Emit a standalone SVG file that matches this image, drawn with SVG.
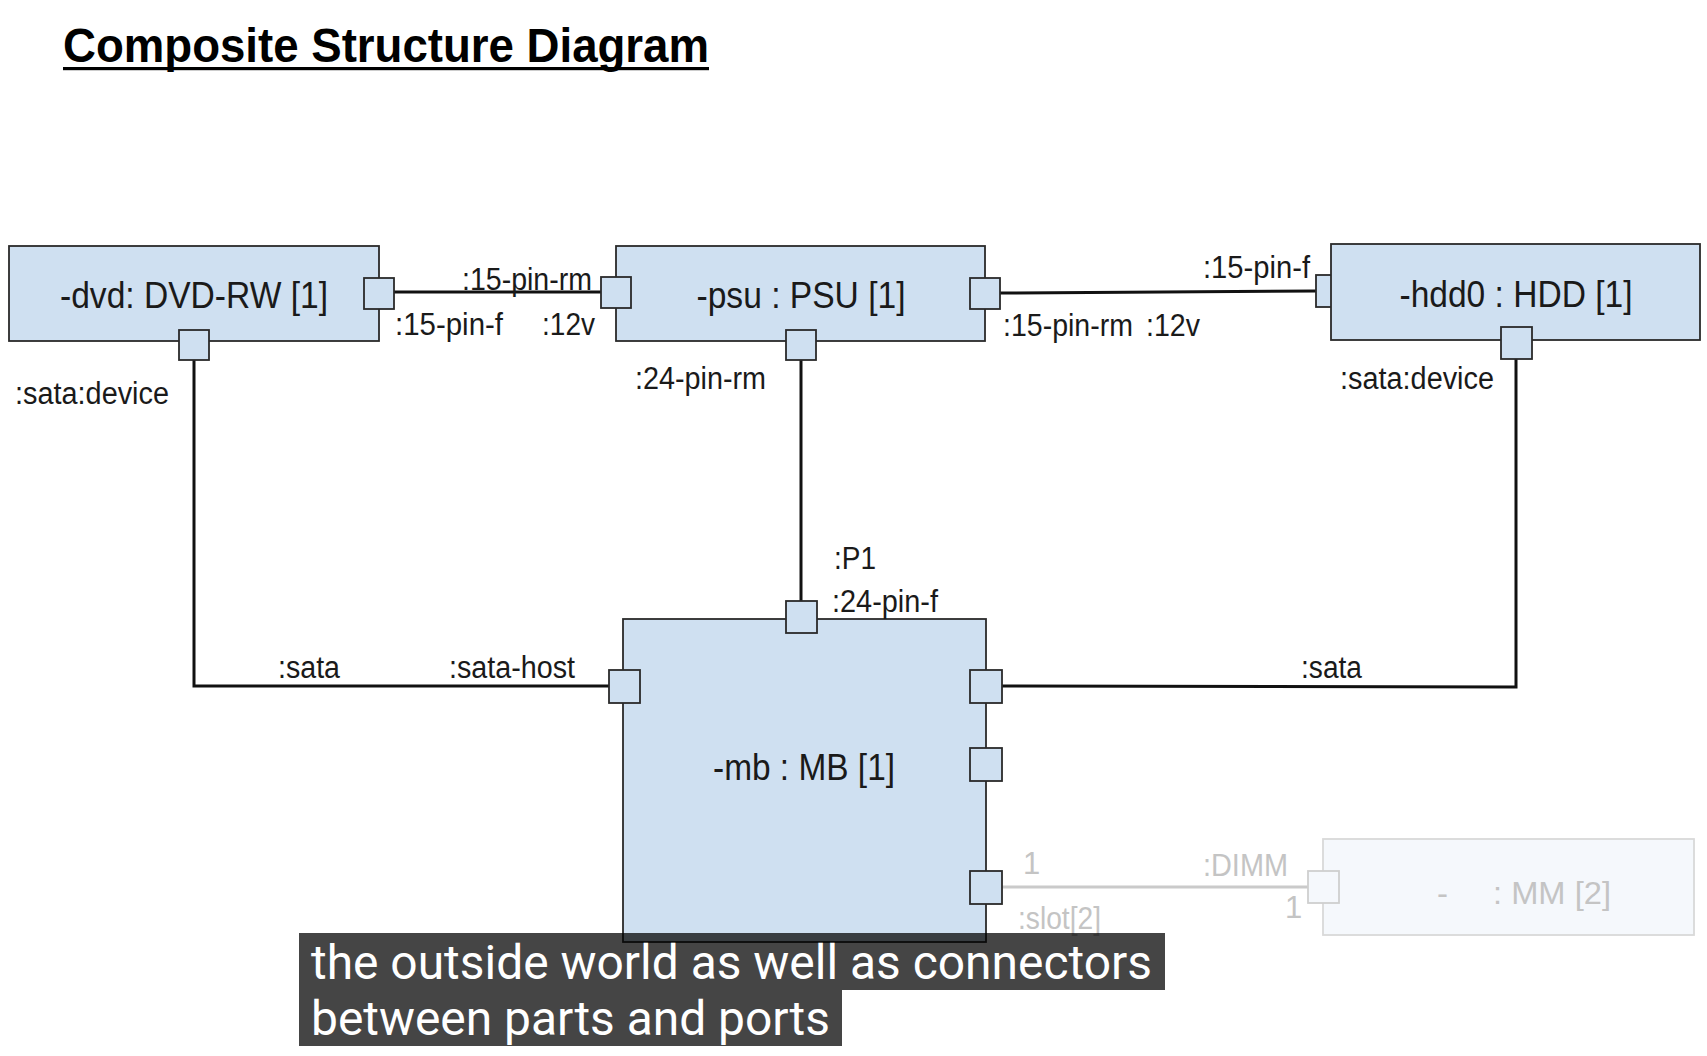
<svg xmlns="http://www.w3.org/2000/svg" width="1707" height="1056" viewBox="0 0 1707 1056">
<style>
.part{fill:#cfe0f1;stroke:#2a2a2a;stroke-width:1.8}
.port{fill:#cfe0f1;stroke:#2a2a2a;stroke-width:1.8}
.faded{fill:#f5f8fc;stroke:#d9d9d9;stroke-width:1.8}
.fport{fill:#f5f8fc;stroke:#cfcfcf;stroke-width:1.8}
.name{font-family:"Liberation Sans",Arial,sans-serif;font-size:36px;fill:#1a1a1a}
.lbl{font-family:"Liberation Sans",Arial,sans-serif;font-size:31px;fill:#1a1a1a}
.glbl{font-family:"Liberation Sans",Arial,sans-serif;font-size:31px;fill:#c4c4c4}
.wire{stroke:#111;stroke-width:3;fill:none}
.gwire{stroke:#cacaca;stroke-width:3;fill:none}
.cap{font-family:Roboto,"Noto Sans",sans-serif;font-size:48px;fill:#ffffff}
</style>
<rect x="0" y="0" width="1707" height="1056" fill="#ffffff"/>
<g id="title">
<text x="63" y="62" font-family="'Liberation Sans',Arial,sans-serif" font-size="48" font-weight="bold" fill="#000" textLength="646" lengthAdjust="spacingAndGlyphs">Composite Structure Diagram</text>
<rect x="63" y="67" width="646" height="3.2" fill="#000"/>
</g>
<g id="connectors">
<line class="wire" x1="394" y1="292" x2="601" y2="292"/>
<line class="wire" x1="1000" y1="293" x2="1316" y2="291"/>
<polyline class="wire" points="194,360 194,686 609,686"/>
<line class="wire" x1="801" y1="360" x2="801" y2="601"/>
<polyline class="wire" points="1002,686 1516,687 1516,359"/>
<line class="gwire" x1="1002" y1="887" x2="1309" y2="887"/>
</g>
<g id="node-dvd">
<rect class="part" x="9" y="246" width="370" height="95"/>
<rect class="port" x="364" y="278" width="30" height="31"/>
<rect class="port" x="179" y="330" width="30" height="30"/>
<text class="name" x="194" y="308" text-anchor="middle" textLength="268" lengthAdjust="spacingAndGlyphs">-dvd: DVD-RW [1]</text>
</g>
<g id="node-psu">
<rect class="part" x="616" y="246" width="369" height="95"/>
<rect class="port" x="601" y="277" width="30" height="31"/>
<rect class="port" x="970" y="278" width="30" height="31"/>
<rect class="port" x="786" y="330" width="30" height="30"/>
<text class="name" x="801" y="308" text-anchor="middle" textLength="209" lengthAdjust="spacingAndGlyphs">-psu : PSU [1]</text>
</g>
<g id="node-hdd0">
<rect class="port" x="1316" y="275" width="30" height="32"/>
<rect class="part" x="1331" y="244" width="369" height="96"/>
<rect class="port" x="1501" y="327" width="31" height="32"/>
<text class="name" x="1516" y="307" text-anchor="middle" textLength="233" lengthAdjust="spacingAndGlyphs">-hdd0 : HDD [1]</text>
</g>
<g id="node-mb">
<rect class="part" x="623" y="619" width="363" height="323"/>
<rect class="port" x="786" y="601" width="31" height="32"/>
<rect class="port" x="609" y="670" width="31" height="33"/>
<rect class="port" x="970" y="670" width="32" height="33"/>
<rect class="port" x="970" y="748" width="32" height="33"/>
<rect class="port" x="970" y="871" width="32" height="33"/>
<text class="name" x="804" y="780" text-anchor="middle" textLength="182" lengthAdjust="spacingAndGlyphs">-mb : MB [1]</text>
</g>
<g id="node-mm">
<rect class="faded" x="1323" y="839" width="371" height="96"/>
<rect class="fport" x="1308" y="871" width="31" height="32"/>
<text class="glbl" x="1437" y="904" font-size="35" textLength="11" lengthAdjust="spacingAndGlyphs">-</text>
<text class="glbl" x="1493" y="904" font-size="35" textLength="118" lengthAdjust="spacingAndGlyphs">: MM [2]</text>
</g>
<g id="labels">
<text class="lbl" x="462" y="290" textLength="130" lengthAdjust="spacingAndGlyphs">:15-pin-rm</text>
<text class="lbl" x="395" y="335" textLength="108" lengthAdjust="spacingAndGlyphs">:15-pin-f</text>
<text class="lbl" x="542" y="335" textLength="53" lengthAdjust="spacingAndGlyphs">:12v</text>
<text class="lbl" x="1003" y="336" textLength="130" lengthAdjust="spacingAndGlyphs">:15-pin-rm</text>
<text class="lbl" x="1146" y="336" textLength="54" lengthAdjust="spacingAndGlyphs">:12v</text>
<text class="lbl" x="1203" y="278" textLength="107" lengthAdjust="spacingAndGlyphs">:15-pin-f</text>
<text class="lbl" x="635" y="389" textLength="131" lengthAdjust="spacingAndGlyphs">:24-pin-rm</text>
<text class="lbl" x="15" y="404" textLength="154" lengthAdjust="spacingAndGlyphs">:sata:device</text>
<text class="lbl" x="1340" y="389" textLength="154" lengthAdjust="spacingAndGlyphs">:sata:device</text>
<text class="lbl" x="834" y="569" textLength="42" lengthAdjust="spacingAndGlyphs">:P1</text>
<text class="lbl" x="832" y="612" textLength="106" lengthAdjust="spacingAndGlyphs">:24-pin-f</text>
<text class="lbl" x="278" y="678" textLength="62" lengthAdjust="spacingAndGlyphs">:sata</text>
<text class="lbl" x="449" y="678" textLength="126" lengthAdjust="spacingAndGlyphs">:sata-host</text>
<text class="lbl" x="1301" y="678" textLength="61" lengthAdjust="spacingAndGlyphs">:sata</text>
<text class="glbl" x="1023" y="874">1</text>
<text class="glbl" x="1203" y="876" textLength="85" lengthAdjust="spacingAndGlyphs">:DIMM</text>
<text class="glbl" x="1285" y="918">1</text>
<text class="glbl" x="1018" y="929" font-size="29" textLength="83" lengthAdjust="spacingAndGlyphs">:slot[2]</text>
</g>
<g id="caption">
<rect x="299" y="933" width="866" height="57" fill="#000" fill-opacity="0.73"/>
<rect x="299" y="990" width="543" height="56" fill="#000" fill-opacity="0.73"/>
<text class="cap" x="311" y="979" textLength="841" lengthAdjust="spacingAndGlyphs">the outside world as well as connectors</text>
<text class="cap" x="311" y="1035" textLength="519" lengthAdjust="spacingAndGlyphs">between parts and ports</text>
</g>
</svg>
